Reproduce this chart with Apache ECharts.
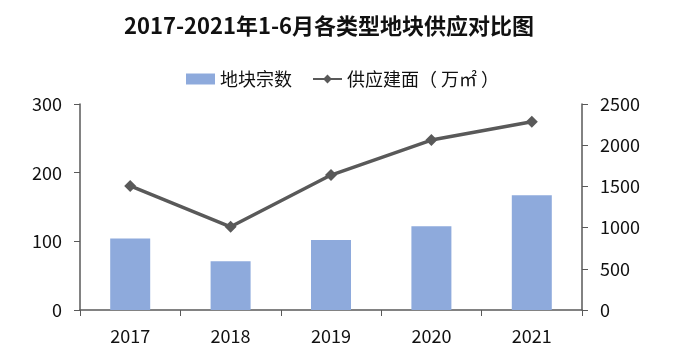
<!DOCTYPE html>
<html>
<head>
<meta charset="utf-8">
<script src="https://cdn.jsdelivr.net/npm/echarts@6/dist/echarts.min.js"></script>
<style>html,body{margin:0;padding:0;background:#fff;}#c{width:693px;height:361px;}</style>
</head>
<body>
<div id="c"></div>
<script>
var categories = ['2017', '2018', '2019', '2020', '2021'];
var parcelCounts = [104, 71, 102, 122, 167];
var supplyArea = [1505, 1010, 1638, 2062, 2285];
var titleText = '2017-2021年1-6月各类型地块供应对比图';
var seriesNames = ['地块宗数', '供应建面（ 万㎡ ）'];

var chart = echarts.init(document.getElementById('c'));
var font = '"Noto Sans CJK SC", "Noto Sans", sans-serif';
chart.setOption({
  backgroundColor: '#ffffff',
  animation: false,
  title: {
    text: titleText, left: 119, top: 10,
    textStyle: { fontFamily: font, fontSize: 22, fontWeight: 'bold', color: '#111' }
  },
  legend: {
    top: 65, left: 181, itemWidth: 29, itemHeight: 11, itemGap: 20,
    textStyle: { fontFamily: font, fontSize: 18, color: '#111' },
    data: [{ name: seriesNames[0], icon: 'rect' }, { name: seriesNames[1] }]
  },
  grid: { left: 80, right: 111, top: 104, bottom: 51 },
  xAxis: {
    type: 'category', data: categories,
    axisLine: { lineStyle: { color: '#595959', width: 1.5 } },
    axisTick: { show: true, length: 6, lineStyle: { color: '#595959' } },
    axisLabel: { fontFamily: font, fontSize: 18, color: '#111', margin: 17 }
  },
  yAxis: [{
    type: 'value', min: 0, max: 300, interval: 100,
    axisLine: { show: true, lineStyle: { color: '#595959', width: 1.5 } },
    axisTick: { show: true, length: 6, lineStyle: { color: '#595959' } },
    splitLine: { show: false },
    axisLabel: { fontFamily: font, fontSize: 18, color: '#111', margin: 18 }
  }, {
    type: 'value', min: 0, max: 2500, interval: 500,
    axisLine: { show: true, lineStyle: { color: '#595959', width: 1.5 } },
    axisTick: { show: true, length: 6, lineStyle: { color: '#595959' } },
    splitLine: { show: false },
    axisLabel: { fontFamily: font, fontSize: 18, color: '#111', margin: 18,
      formatter: function (v) { return String(v); } }
  }],
  series: [{
    name: seriesNames[0], type: 'bar', data: parcelCounts, barWidth: 40,
    itemStyle: { color: '#8eaadc' }
  }, {
    name: seriesNames[1], type: 'line', yAxisIndex: 1, data: supplyArea,
    symbol: 'diamond', symbolSize: 12, showAllSymbol: true,
    lineStyle: { color: '#595959', width: 3.5 },
    itemStyle: { color: '#595959' }
  }]
});
</script>
</body>
</html>
